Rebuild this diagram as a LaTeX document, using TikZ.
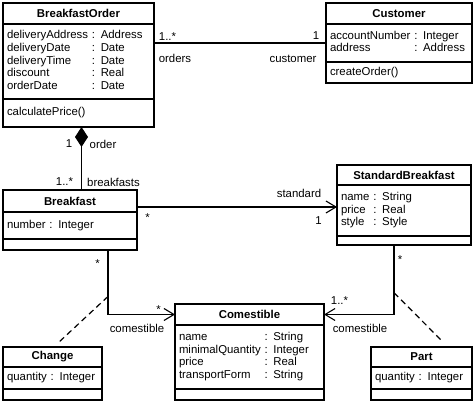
\documentclass[tikz,border=0pt]{standalone}
\usepackage{fontspec}
\setmainfont{Liberation Sans}
\usepackage{tikz}
\usetikzlibrary{calc}
\usetikzlibrary{positioning}
\usetikzlibrary{arrows.meta}
\newcommand{\umlfont}{\fontsize{11.4}{12.8}\selectfont}
\tikzset{
  umltitle/.style={draw, line width=1.1pt, outer sep=0pt, anchor=north west, inner xsep=4pt, inner ysep=0pt, align=center, font=\umlfont\bfseries},
  umlpart/.style={draw, line width=1.1pt, outer sep=0pt, inner xsep=4pt, inner ysep=0pt, align=left, font=\umlfont},
  assoc/.style={line width=1.1pt},
  navig/.style={assoc, -{Straight Barb[length=10pt, width=12pt]}},
  compos/.style={assoc, {Diamond[length=20pt, width=13pt]}-},
  assocclass/.style={line width=1.2pt, dash pattern=on 6pt off 4pt},
  mult/.style={font=\umlfont, inner sep=0pt},
}

\begin{document}
\begin{tikzpicture}[x=1pt, y=-1pt]
\useasboundingbox (0,0) rectangle (475,404);
% BreakfastOrder
\node[umltitle, text width=143pt, minimum height=21pt] (oTitle) at (3,3) {BreakfastOrder};
\node[umlpart, text width=143pt, minimum height=75pt, below=0pt of oTitle] (oAttr) {\begin{tabular}{@{}l@{\ }l@{}}
deliveryAddress & : Address\\ deliveryDate & : Date\\ deliveryTime & : Date\\ discount & : Real\\ orderDate & : Date
\end{tabular}};
\node[umlpart, text width=143pt, minimum height=28pt, below=0pt of oAttr] (oOps) {calculatePrice()};
% Customer
\node[umltitle, text width=138pt, minimum height=21pt] (cuTitle) at (326,3) {Customer};
\node[umlpart, text width=138pt, minimum height=38pt, below=0pt of cuTitle] (cuAttr) {\begin{tabular}{@{}l@{\ }l@{}}
accountNumber & : Integer\\ address & : Address
\end{tabular}};
\node[umlpart, text width=138pt, minimum height=21pt, below=0pt of cuAttr] (cuOps) {createOrder()};
% Breakfast
\node[umltitle, text width=126pt, minimum height=22pt] (bTitle) at (3,190) {Breakfast};
\node[umlpart, text width=126pt, minimum height=27pt, below=0pt of bTitle] (bAttr) {number : Integer};
\node[umlpart, text width=126pt, minimum height=11pt, below=0pt of bAttr] (bOps) {};
% StandardBreakfast
\node[umltitle, text width=126pt, minimum height=20pt] (sTitle) at (337,165) {StandardBreakfast};
\node[umlpart, text width=126pt, minimum height=51pt, below=0pt of sTitle] (sAttr) {\begin{tabular}{@{}l@{\ }l@{}}
name & : String\\ price & : Real\\ style & : Style
\end{tabular}};
\node[umlpart, text width=126pt, minimum height=9pt, below=0pt of sAttr] (sOps) {};
% Comestible
\node[umltitle, text width=141pt, minimum height=21pt] (cTitle) at (175,304) {Comestible};
\node[umlpart, text width=141pt, minimum height=64pt, below=0pt of cTitle] (cAttr) {\begin{tabular}{@{}l@{\ }l@{}}
name & : String\\ minimalQuantity & : Integer\\ price & : Real\\ transportForm & : String
\end{tabular}};
\node[umlpart, text width=141pt, minimum height=11pt, below=0pt of cAttr] (cOps) {};
% Change
\node[umltitle, text width=91pt, minimum height=20pt] (chTitle) at (3,347) {Change};
\node[umlpart, text width=91pt, minimum height=22pt, below=0pt of chTitle] (chAttr) {quantity : Integer};
\node[umlpart, text width=91pt, minimum height=11pt, below=0pt of chAttr] (chOps) {};
% Part
\node[umltitle, text width=93pt, minimum height=20pt] (pTitle) at (371,347) {Part};
\node[umlpart, text width=93pt, minimum height=22pt, below=0pt of pTitle] (pAttr) {quantity : Integer};
\node[umlpart, text width=93pt, minimum height=11pt, below=0pt of pAttr] (pOps) {};

% associations
\draw[assoc] (cuAttr.west -| oAttr.east) -- (cuAttr.west);
\coordinate (compo) at ($(oOps.south)+(3,0)$);
\draw[compos] (compo) -- (compo |- bTitle.north);
\coordinate (bsStart) at ($(bTitle.east)+(0,6)$);
\draw[navig] (bsStart) -- (bsStart -| sAttr.west);
\coordinate (bDown) at ($(bOps.south west)+(105,0)$);
\draw[navig] (bDown) |- (cTitle.west) coordinate[pos=0.36] (bMid);
\coordinate (sDown) at ($(sOps.south west)+(57,0)$);
\draw[navig] (sDown) |- (cTitle.east) coordinate[pos=0.343] (sMid);
\coordinate (chEnd) at ($(chTitle.north)+(5.5,-4)$);
\draw[assocclass] (bMid) -- (chEnd);
\coordinate (pEnd) at ($(pTitle.north)+(21.5,-5)$);
\draw[assocclass] (sMid) -- (pEnd);

% multiplicities and roles
\foreach \x/\y/\t [count=\i] in {167.5/36.5/{1..*}, 175/58/orders, 316/36/1, 293/59/customer,
    69/144/1, 103/144/order, 64.5/182/{1..*}, 113.5/182/breakfasts,
    147.5/217.5/*, 299/193/standard, 318.5/221/1,
    97.5/263.5/*, 158.5/309.5/*, 137/328/comestible,
    400/259.5/*, 339.5/301/{1..*}, 360/328/comestible} {
  \node[mult] (lbl\i) at (\x,\y) {\t};
}
\end{tikzpicture}
\end{document}
